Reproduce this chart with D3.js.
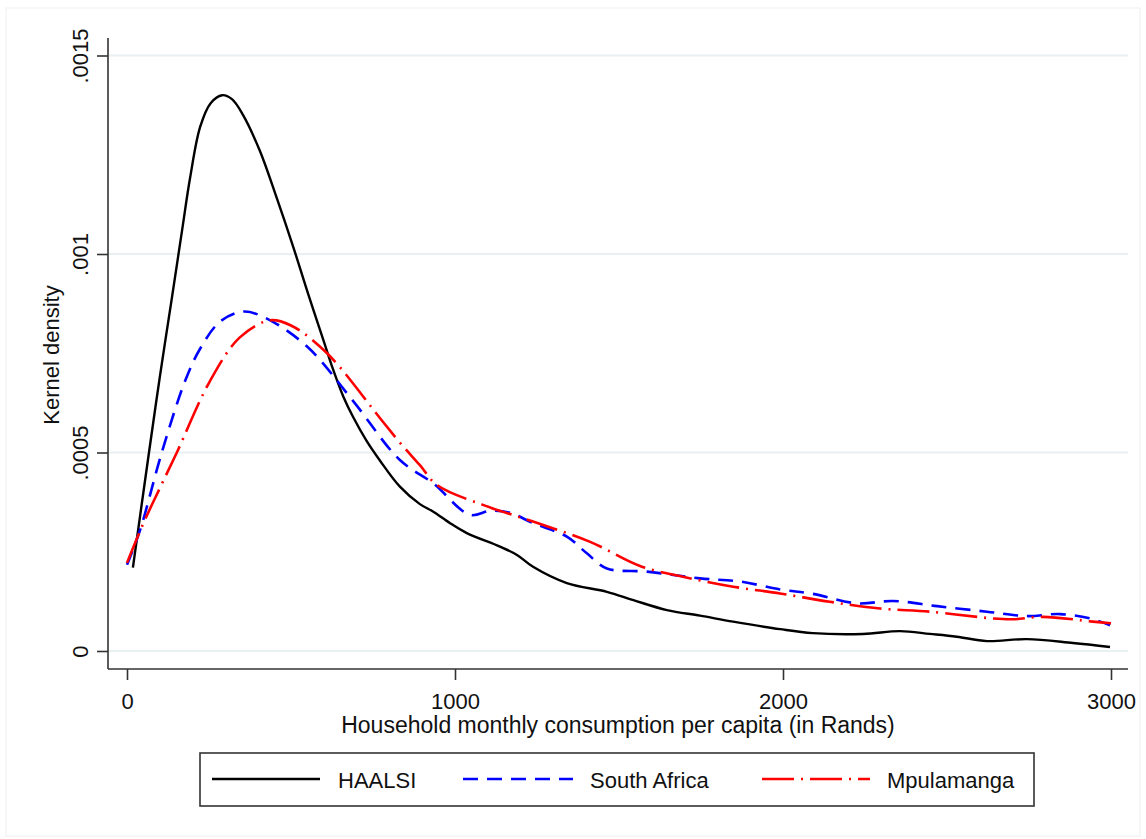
<!DOCTYPE html>
<html>
<head>
<meta charset="utf-8">
<script src="https://cdn.jsdelivr.net/npm/d3@7"></script>
<style>
  body { margin: 0; background: #fff; }
  svg text { font-family: Arial, "Liberation Sans", sans-serif; fill: #111; }
</style>
</head>
<body>
<svg id="chart"></svg>
<script>
// kernel density curves
const haalsiX = [18, 67, 100, 137, 168, 192, 223, 255, 290, 320, 354, 405, 457, 506, 552, 600, 628, 660, 689, 730, 771, 832, 893, 934, 985, 1036, 1137, 1189, 1238, 1341, 1463, 1544, 1646, 1747, 1848, 1991, 2091, 2244, 2357, 2448, 2530, 2622, 2744, 2884, 2997];
const haalsiY = [0.00021, 0.0005, 0.00069, 0.00089, 0.00106, 0.00119, 0.00132, 0.00138, 0.0014, 0.00139, 0.00135, 0.00126, 0.00114, 0.00102, 0.0009, 0.00078, 0.00071, 0.00064, 0.00059, 0.00053, 0.00048, 0.000414, 0.00037, 0.000351, 0.000322, 0.000297, 0.000263, 0.000242, 0.000212, 0.000171, 0.000149, 0.000128, 0.000103, 0.000089, 0.000074, 0.000055, 0.000045, 0.000043, 0.00005, 0.000043, 0.000036, 0.000025, 0.00003, 0.00002, 0.00001];

const southAfricaX = [0, 40, 106, 177, 222, 284, 354, 420, 549, 689, 832, 934, 1046, 1107, 1168, 1238, 1341, 1402, 1463, 1585, 1747, 1869, 1991, 2091, 2226, 2335, 2470, 2622, 2744, 2845, 2936, 2997];
const southAfricaY = [0.000217, 0.000305, 0.0005, 0.00068, 0.00076, 0.00083, 0.000855, 0.00084, 0.000767, 0.00063, 0.000481, 0.000422, 0.000343, 0.000353, 0.000348, 0.000322, 0.000288, 0.000246, 0.000208, 0.0002, 0.000183, 0.000175, 0.000155, 0.000144, 0.00012, 0.000126, 0.000113, 0.000099, 0.000088, 0.000093, 0.000082, 0.000065];

const mpumalangaX = [0, 49, 100, 152, 253, 344, 436, 500, 610, 771, 832, 893, 945, 1085, 1238, 1412, 1564, 1695, 1848, 1991, 2143, 2296, 2448, 2640, 2701, 2793, 2945, 3000];
const mpumalangaY = [0.000222, 0.00032, 0.00041, 0.0005, 0.00068, 0.00079, 0.000833, 0.00082, 0.00075, 0.000587, 0.000525, 0.000468, 0.000418, 0.000368, 0.000326, 0.000275, 0.000214, 0.000187, 0.000162, 0.000145, 0.000124, 0.000107, 0.000099, 0.000082, 0.00008, 0.000086, 0.000074, 0.00007];

const xTicks = [0, 1000, 2000, 3000];
const yTicks = [0, 0.0005, 0.001, 0.0015];
const yTickLabels = ["0", ".0005", ".001", ".0015"];
const seriesNames = ["HAALSI", "South Africa", "Mpulamanga"];

const width = 1146;
const height = 839;

const svg = d3.select("#chart").attr("width", width).attr("height", height);

// faint outer frame of the graph region
svg.append("rect")
  .attr("x", 6).attr("y", 8)
  .attr("width", 1134).attr("height", 828)
  .attr("fill", "#fff")
  .attr("stroke", "#efefef")
  .attr("stroke-width", 1);

const plot = { left: 108, right: 1128, top: 38, bottom: 669 };

const x = d3.scaleLinear().domain([0, 3000]).range([127, 1111]);
const y = d3.scaleLinear().domain([0, 0.0015]).range([651, 55.5]);

// gridlines
svg.append("g")
  .selectAll("line")
  .data(yTicks)
  .join("line")
  .attr("x1", plot.left)
  .attr("x2", plot.right)
  .attr("y1", d => y(d))
  .attr("y2", d => y(d))
  .attr("stroke", "#e8f0f2")
  .attr("stroke-width", 2);

// axes
const xAxis = svg.append("g")
  .attr("transform", `translate(0, ${plot.bottom})`)
  .call(d3.axisBottom(x).tickValues(xTicks).tickSize(11).tickPadding(13).tickFormat(d3.format("d")));
xAxis.select(".domain").attr("d", `M${plot.left},0H${plot.right}`);

const yAxis = svg.append("g")
  .attr("transform", `translate(${plot.left}, 0)`)
  .call(d3.axisLeft(y).tickValues(yTicks).tickSize(11).tickFormat((d, i) => yTickLabels[i]));
yAxis.select(".domain").attr("d", `M0,${plot.top}V${plot.bottom}`);
yAxis.selectAll(".tick text")
  .attr("transform", "rotate(-90)")
  .attr("x", 0)
  .attr("y", -20)
  .attr("dy", 0)
  .style("text-anchor", "middle");

[xAxis, yAxis].forEach(a => {
  a.select(".domain").attr("stroke", "#333").attr("stroke-width", 1.6);
  a.selectAll(".tick line").attr("stroke", "#333").attr("stroke-width", 1.6);
  a.selectAll(".tick text").style("font-size", "22px").attr("fill", "#111");
});

// axis titles
svg.append("text")
  .attr("x", (plot.left + plot.right) / 2)
  .attr("y", 733)
  .attr("text-anchor", "middle")
  .style("font-size", "23px")
  .text("Household monthly consumption per capita (in Rands)");

svg.append("text")
  .attr("transform", `translate(59, 355) rotate(-90)`)
  .attr("text-anchor", "middle")
  .style("font-size", "22px")
  .text("Kernel density");

// curves
const line = d3.line()
  .x(d => x(d[0]))
  .y(d => y(d[1]))
  .curve(d3.curveCatmullRom.alpha(0.5));

const series = [
  { name: seriesNames[0], xs: haalsiX, ys: haalsiY, color: "#000000", dash: null, w: 2.4 },
  { name: seriesNames[1], xs: southAfricaX, ys: southAfricaY, color: "#0000ff", dash: "15,9", w: 2.6 },
  { name: seriesNames[2], xs: mpumalangaX, ys: mpumalangaY, color: "#ff0000", dash: "32,7,2,7", w: 2.6 }
];

series.forEach(s => {
  svg.append("path")
    .datum(s.xs.map((v, i) => [v, s.ys[i]]))
    .attr("fill", "none")
    .attr("stroke", s.color)
    .attr("stroke-width", s.w)
    .attr("stroke-dasharray", s.dash)
    .attr("d", line);
});

// legend
const legend = svg.append("g");
legend.append("rect")
  .attr("x", 200).attr("y", 753)
  .attr("width", 834).attr("height", 53)
  .attr("fill", "#fff")
  .attr("stroke", "#333")
  .attr("stroke-width", 1.6);

const legendItems = [
  { x1: 212, x2: 320, tx: 338 },
  { x1: 463, x2: 573, tx: 590 },
  { x1: 762, x2: 870, tx: 887 }
];

series.forEach((s, i) => {
  const it = legendItems[i];
  legend.append("line")
    .attr("x1", it.x1).attr("x2", it.x2)
    .attr("y1", 779).attr("y2", 779)
    .attr("stroke", s.color)
    .attr("stroke-width", s.w)
    .attr("stroke-dasharray", s.dash);
  legend.append("text")
    .attr("x", it.tx)
    .attr("y", 788)
    .style("font-size", "22px")
    .text(s.name);
});
</script>
</body>
</html>
